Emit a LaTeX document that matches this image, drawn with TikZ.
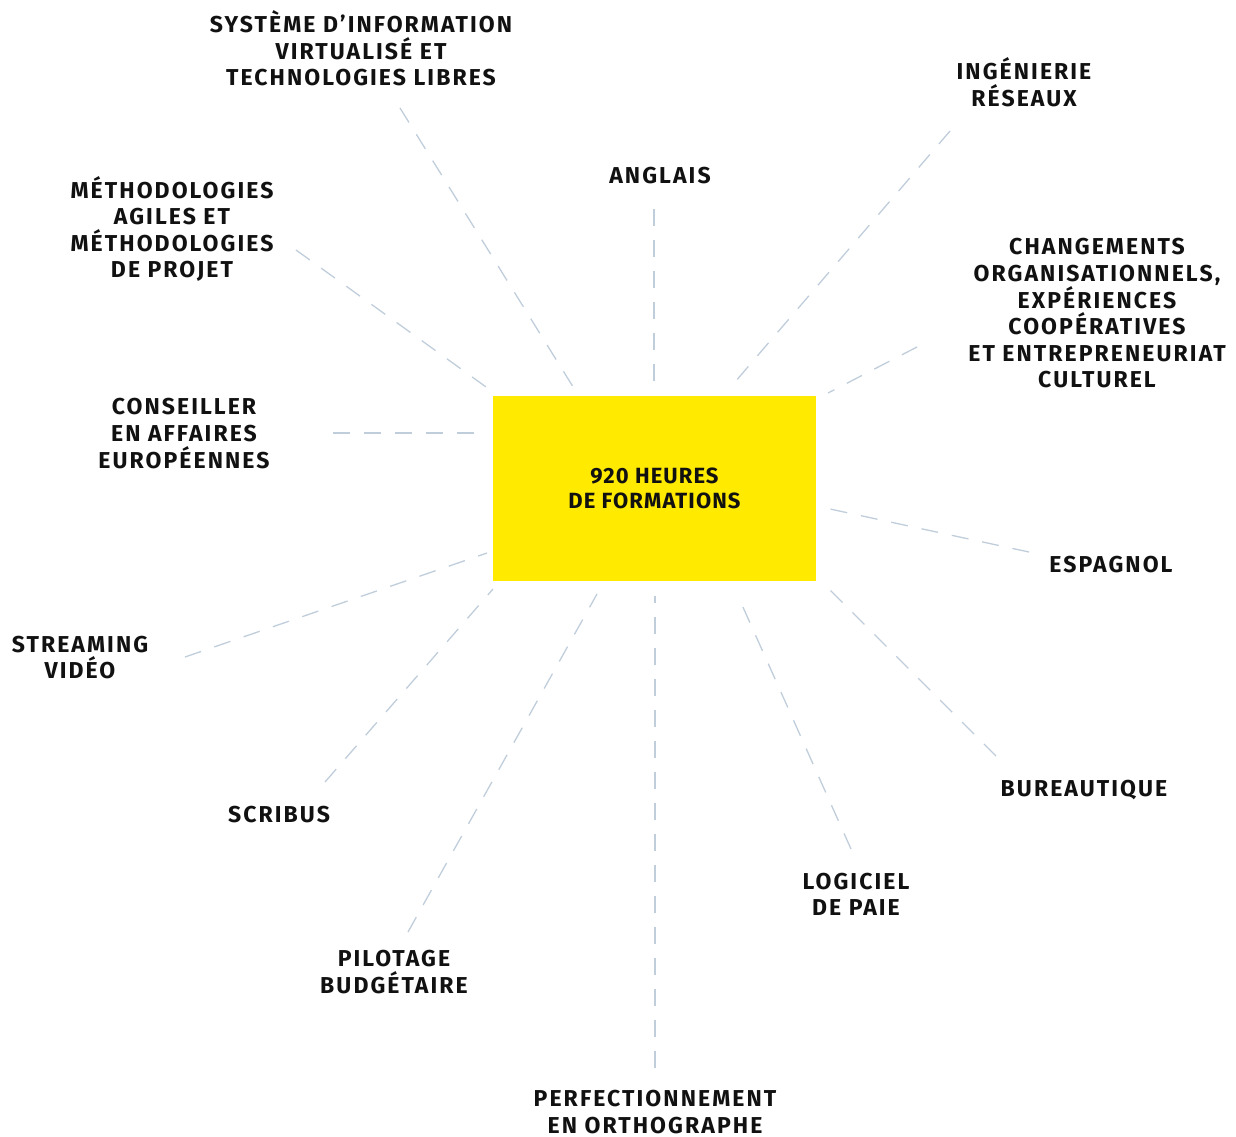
\documentclass[tikz,border=0pt]{standalone}
\usepackage{fontspec}
\setmainfont{Fira Sans}[LetterSpace=9]
\newfontfamily\hubfont{Fira Sans}[LetterSpace=5]
\definecolor{hubyellow}{RGB}{255,234,0}
\definecolor{dashgrey}{RGB}{192,205,218}
\definecolor{ink}{RGB}{17,17,17}
\tikzset{
    topic/.style={align=center, font=\fontsize{23}{26.6}\selectfont\bfseries, text=ink, inner sep=0pt},
    hubbox/.style={fill=hubyellow, minimum width=323pt, minimum height=185pt, inner sep=0pt,
        align=center, font=\hubfont\fontsize{22}{24.5}\selectfont\bfseries, text=ink},
    link/.style={draw=dashgrey, line width=1.3pt, dash pattern=on 17pt off 14pt}
}
\begin{document}
\begin{tikzpicture}[x=1pt, y=-1pt]
    \useasboundingbox (0,0) rectangle (1236,1137);
    % centre
    \node[hubbox] (hub) at (654.5,488.5) {920 HEURES\\DE FORMATIONS};
    % topics
    \node[topic] (sys) at (361,48.5) {SYSTÈME D’INFORMATION\\VIRTUALISÉ ET\\TECHNOLOGIES LIBRES};
    \node[topic] (ing) at (1024,82.5) {INGÉNIERIE\\RÉSEAUX};
    \node[topic] (ang) at (660,176) {ANGLAIS};
    \node[topic] (met) at (172,229) {MÉTHODOLOGIES\\AGILES ET\\MÉTHODOLOGIES\\DE PROJET};
    \node[topic] (chg) at (1097,313.5) {CHANGEMENTS\\ORGANISATIONNELS,\\EXPÉRIENCES\\COOPÉRATIVES\\ET ENTREPRENEURIAT\\CULTUREL};
    \node[topic] (con) at (184,433.5) {CONSEILLER\\EN AFFAIRES\\EUROPÉENNES};
    \node[topic] (esp) at (1111,564.5) {ESPAGNOL};
    \node[topic] (str) at (80,657.5) {STREAMING\\VIDÉO};
    \node[topic] (scr) at (279,814.5) {SCRIBUS};
    \node[topic] (bur) at (1084,790.5) {BUREAUTIQUE};
    \node[topic] (log) at (856,894.5) {LOGICIEL\\DE PAIE};
    \node[topic] (pil) at (394,972) {PILOTAGE\\BUDGÉTAIRE};
    \node[topic] (per) at (655,1112) {PERFECTIONNEMENT\\EN ORTHOGRAPHE};
    % ends of the dashed links (hub side / topic side)
    \coordinate (sys-in) at (575,390);  \coordinate (sys-out) at (400,108);
    \coordinate (ing-in) at (735,382);  \coordinate (ing-out) at (950,131);
    \coordinate (ang-in) at (654,383);  \coordinate (ang-out) at (654,209);
    \coordinate (met-in) at (493,392);  \coordinate (met-out) at (296,250);
    \coordinate (chg-in) at (828,393);  \coordinate (chg-out) at (917,347);
    \coordinate (con-in) at (486,433);  \coordinate (con-out) at (333,433);
    \coordinate (esp-in) at (830,509);  \coordinate (esp-out) at (1029,552);
    \coordinate (str-in) at (487,553);  \coordinate (str-out) at (185,657);
    \coordinate (scr-in) at (493,589);  \coordinate (scr-out) at (325,782);
    \coordinate (bur-in) at (828,588);  \coordinate (bur-out) at (996,756);
    \coordinate (log-in) at (738,596);  \coordinate (log-out) at (851,849);
    \coordinate (pil-in) at (597,594);  \coordinate (pil-out) at (408,932);
    \coordinate (per-in) at (655,596);  \coordinate (per-out) at (655,1068);
    \foreach \t in {sys,ing,ang,met,chg,con,esp,str,scr,bur,log,pil,per} {
        \draw[link] (\t-out) -- (\t-in);
    }
\end{tikzpicture}
\end{document}
